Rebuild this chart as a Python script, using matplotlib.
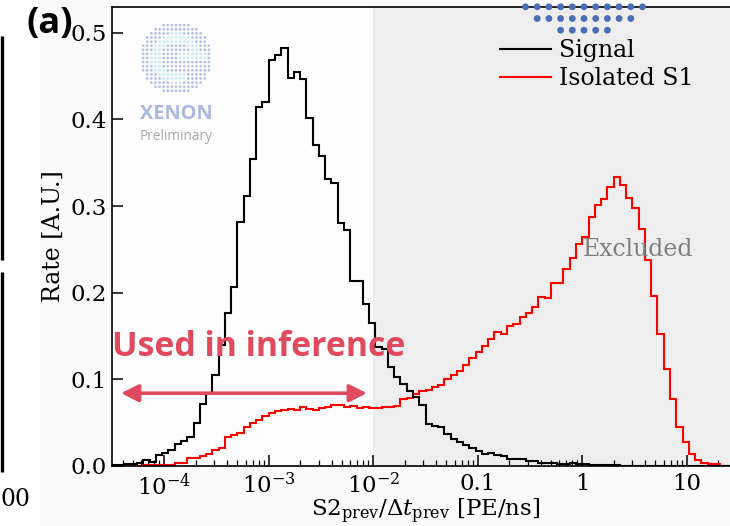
import numpy as np
import matplotlib
matplotlib.use("Agg")
import matplotlib.pyplot as plt
from matplotlib.patches import Rectangle, Circle

plt.rcParams['font.family'] = 'DejaVu Serif'
plt.rcParams['mathtext.fontset'] = 'dejavuserif'

# log10 bin edges of the S2_prev / dt_prev histograms
edge_lo, edge_hi, n_bins = -4.5, 1.5, 100

signal = [
    0.001, 0.001, 0.002, 0.002, 0.003, 0.007, 0.005, 0.013, 0.015, 0.018,
    0.025, 0.029, 0.034, 0.050, 0.071, 0.084, 0.105, 0.140, 0.176, 0.207,
    0.281, 0.312, 0.354, 0.414, 0.420, 0.469, 0.474, 0.482, 0.448, 0.455,
    0.446, 0.402, 0.370, 0.358, 0.331, 0.326, 0.280, 0.272, 0.214, 0.214,
    0.187, 0.165, 0.137, 0.135, 0.114, 0.103, 0.095, 0.086, 0.080, 0.070,
    0.049, 0.046, 0.045, 0.037, 0.031, 0.028, 0.024, 0.021, 0.017, 0.014,
    0.015, 0.013, 0.011, 0.008, 0.008, 0.008, 0.006, 0.006, 0.004, 0.004,
    0.003, 0.002, 0.002, 0.003, 0.002, 0.002, 0.001, 0.001, 0.001, 0.001,
    0.0008, 0.0005, 0.0005, 0.0005, 0.0005, 0.0005, 0.0003, 0.0003, 0.0003, 0.0003,
    0.0003, 0.0001, 0.0001, 0.0001, 0.0001, 0.0001, 0.0001, 0.0001, 0.0001, 0.0001,
]

isolated_s1 = [
    0.0003, 0.0003, 0.0003, 0.0004, 0.0005, 0.0006, 0.0008, 0.001, 0.0012, 0.0015,
    0.004, 0.004, 0.009, 0.009, 0.011, 0.014, 0.018, 0.021, 0.033, 0.036,
    0.038, 0.045, 0.050, 0.053, 0.058, 0.061, 0.063, 0.065, 0.066, 0.065,
    0.068, 0.066, 0.065, 0.067, 0.068, 0.070, 0.070, 0.068, 0.069, 0.067,
    0.068, 0.067, 0.067, 0.068, 0.068, 0.069, 0.077, 0.079, 0.083, 0.086,
    0.088, 0.091, 0.094, 0.100, 0.105, 0.110, 0.116, 0.125, 0.132, 0.139,
    0.147, 0.155, 0.152, 0.161, 0.164, 0.172, 0.177, 0.184, 0.195, 0.194,
    0.211, 0.211, 0.227, 0.240, 0.256, 0.264, 0.287, 0.301, 0.308, 0.322,
    0.333, 0.324, 0.309, 0.298, 0.273, 0.238, 0.196, 0.152, 0.112, 0.077,
    0.045, 0.028, 0.014, 0.007, 0.004, 0.002, 0.002, 0.0005, 0.0005, 0.0005,
]

x_ticks = [1e-4, 1e-3, 1e-2, 0.1, 1, 10]
x_tick_labels = [r'$10^{-4}$', r'$10^{-3}$', r'$10^{-2}$', '0.1', '1', '10']
y_ticks = [0.0, 0.1, 0.2, 0.3, 0.4, 0.5]

cut_value = 1e-2
arrow_span = (10 ** -4.414, 10 ** -2.06)
arrow_level = 0.084

W, H = 730, 526
FS = 17

edges = np.logspace(edge_lo, edge_hi, n_bins + 1)

fig = plt.figure(figsize=(W / 100, H / 100), dpi=100)
fig.patch.set_facecolor('white')

# pixel-unit overlay for the decorations around the plot
deco = fig.add_axes([0, 0, 1, 1], zorder=5)
deco.set_xlim(0, W)
deco.set_ylim(H, 0)
deco.axis('off')
deco.patch.set_alpha(0)

back = fig.add_axes([0, 0, 1, 1], zorder=-5)
back.set_xlim(0, W)
back.set_ylim(H, 0)
back.axis('off')
back.add_patch(Rectangle((40, 0), W - 40, H, color='#fafafa', lw=0))

ax = fig.add_axes([112 / W, (H - 466) / H, (739 - 112) / W, (466 - 6.7) / H])
ax.set_facecolor('#fdfdfd')
ax.set_xscale('log')
ax.set_xlim(edges[0], edges[-1])
ax.set_ylim(0, 0.53)

ax.axvspan(cut_value, edges[-1], color='#eeeeee', zorder=0, lw=0)

ax.stairs(signal, edges, color='black', lw=1.5, label='Signal', zorder=3)
ax.stairs(isolated_s1, edges, color='red', lw=1.5, label='Isolated S1', zorder=2)

ax.set_xticks(x_ticks)
ax.set_xticklabels(x_tick_labels)
ax.set_yticks(y_ticks)
ax.set_yticklabels([f'{v:.1f}' for v in y_ticks])
ax.tick_params(which='major', direction='in', length=8, width=1.1, labelsize=16.5,
               top=False, right=False)
ax.tick_params(which='minor', direction='in', length=4.5, width=0.9, top=False, right=False)
ax.tick_params(axis='x', pad=5)
ax.tick_params(axis='y', pad=4)
for s in ax.spines.values():
    s.set_linewidth(1.2)

ax.set_xlabel(r'S2$_{\mathrm{prev}}$/$\Delta t_{\mathrm{prev}}$ [PE/ns]', fontsize=16.5, labelpad=-2)
ax.set_ylabel('Rate [A.U.]', fontsize=FS, labelpad=4)

leg = ax.legend(loc='upper left', bbox_to_anchor=(500 / W, 1 - 39 / H), bbox_transform=fig.transFigure,
                frameon=False, fontsize=FS, handlelength=2.16, handletextpad=0.34,
                labelspacing=0.21, borderpad=0, borderaxespad=0)

# region annotations
red = '#e04a5f'
ax.annotate('', xy=(arrow_span[0], arrow_level), xytext=(arrow_span[1], arrow_level),
            arrowprops=dict(arrowstyle='<|-|>,head_length=0.7,head_width=0.35',
                            color=red, lw=2.6, shrinkA=0, shrinkB=0, mutation_scale=15),
            zorder=5)
deco.text(112, 356, 'Used in inference', color=red, fontsize=24.4, fontweight='bold',
          family='Open Sans', ha='left', va='baseline')
ax.text(1.0, 0.25, 'Excluded', color='#808080', fontsize=FS, ha='left', va='center')

deco.text(27, 6, '(a)', fontsize=26, fontweight='bold', family='Open Sans',
          ha='left', va='top')

# XENON preliminary mark
cx, cy, r, step = 176, 58, 36, 4.1
for i in range(-9, 10):
    for j in range(-9, 10):
        dx, dy = i * step, j * step
        d = np.hypot(dx, dy)
        if d > r:
            continue
        ang = np.degrees(np.arctan2(-dy, dx))
        light = (0.42 * r < d < 0.72 * r and not (-60 < ang < 10)) or \
                (abs(dy + 2) < 3 and 0 < dx < 0.8 * r)
        col = '#c6eaf8' if light else '#b3c1e3'
        deco.add_patch(Circle((cx + dx, cy + dy), 1.35, color=col, lw=0))
deco.text(176, 114, 'XENON', color='#aab8e0', fontsize=14.4, fontweight='bold',
          family='Open Sans', ha='center', va='center')
deco.text(176, 137, 'Preliminary', color='#a6a6a6', fontsize=9.8,
          family='Open Sans', ha='center', va='center')

# bottom of a second dot logo entering from the top edge
lx, ly, lr, lstep = 584, -40, 76, 11.7
for i in range(-7, 8):
    for j in range(-7, 7):
        dx, dy = i * lstep, j * lstep
        if np.hypot(dx, dy) > lr or ly + dy < -8:
            continue
        col = '#4a6db5'
        if j <= 3 and abs(dx) > 20:
            col = '#8fd3f4'
        deco.add_patch(Circle((lx + dx, ly + dy), 3.4, color=col, lw=0))

# edge of the neighbouring panel
for y0, y1 in [(36, 260), (272, 472)]:
    deco.plot([1.5, 1.5], [y0, y1], color='black', lw=2.4, solid_capstyle='butt')
deco.text(0, 500, '00', fontsize=FS, ha='left', va='center')

fig.savefig('out.png', dpi=100)
